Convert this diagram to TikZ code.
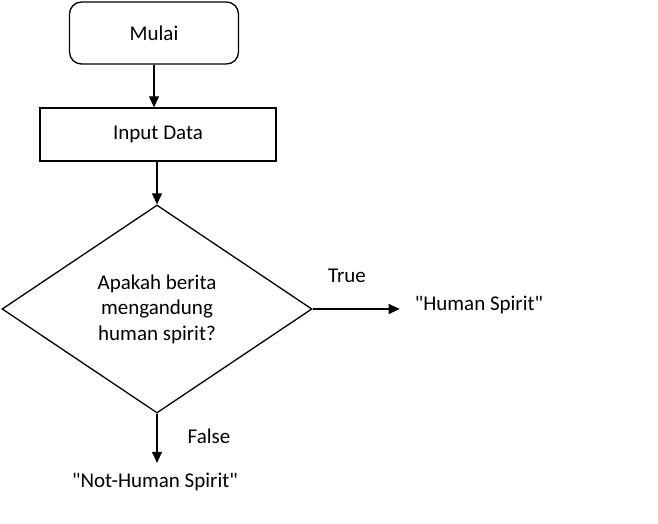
\documentclass[tikz,border=0pt]{standalone}
\usepackage{fontspec}
\setmainfont{Carlito}[Ligatures=TeXOff]
\usetikzlibrary{shapes.geometric,arrows.meta}

\tikzset{
    box/.style={draw=black, line width=1.3pt, inner sep=0pt},
    flow/.style={line width=1.1pt, -{Triangle[length=11pt,width=10pt]}},
    lbl/.style={inner sep=0pt}
}

\begin{document}
\begin{tikzpicture}[x=1pt, y=-1pt, font=\fontsize{21}{25.5}\selectfont]
    \def\cx{155};
    \useasboundingbox (0,0) rectangle (658,524);

    \node[box, rounded corners=12pt, minimum width=169pt, minimum height=62pt] at (\cx-1,33) (mulai) {Mulai};
    \node[box, minimum width=236pt, minimum height=53pt] at (158,134.5) (input) {Input Data};
    \node[box, diamond, minimum width=310pt, minimum height=208pt, align=center] at (157,309) (cek) {Apakah berita\\mengandung\\human spirit?};

    \node[lbl] at (479,305) (hs) {"Human Spirit"};
    \node[lbl] at (\cx,482) (nhs) {"Not-Human Spirit"};
    \node[lbl] at (347,276) (true) {True};
    \node[lbl] at (209,436) (false) {False};

    \draw[flow] (mulai.south) -- (mulai.south |- input.north);
    \draw[flow] (cek.north |- input.south) -- (cek.north);
    \draw[flow] (cek.east) -- ([xshift=-15pt]cek.east -| hs.west);
    \draw[flow] (cek.south) -- ([yshift=10pt]cek.south |- nhs.north);
\end{tikzpicture}
\end{document}
